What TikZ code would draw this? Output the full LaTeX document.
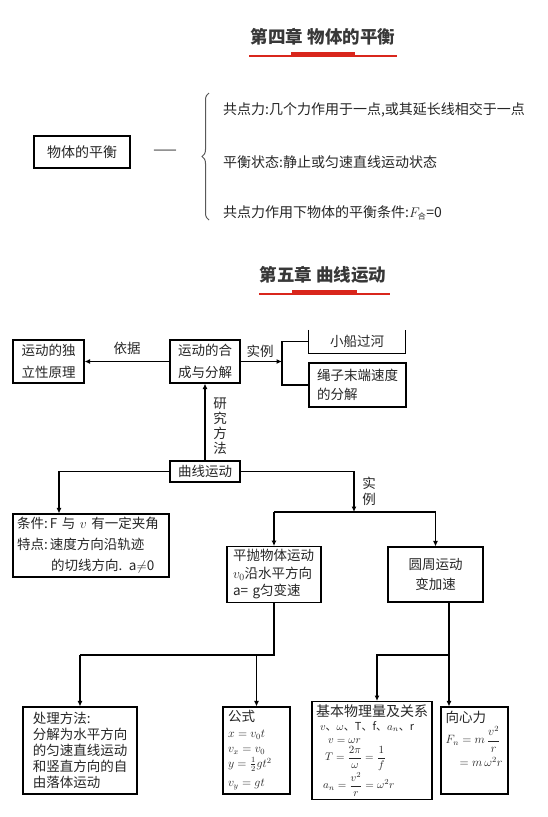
\RequirePackage{fix-cm}
\documentclass[tikz,border=0pt]{standalone}
\usepackage{amsmath}
\usepackage{fontspec}
\setmainfont{Noto Sans CJK SC}
\usepackage{tikz}
\usetikzlibrary{arrows.meta,positioning,decorations.pathreplacing}
\definecolor{ulred}{rgb}{0.85,0.15,0.11}

\begin{document}
\begin{tikzpicture}[x=1pt,y=-1pt, every node/.style={font=\fontsize{13.5}{22}\selectfont,text=black!85,inner sep=0pt}, box/.style={draw=black,line width=1.1pt,align=left,inner sep=3pt}, arr/.style={-{Latex[length=5.5pt,width=5pt]},line width=1.1pt}, ln/.style={line width=1.1pt}, ttl/.style={font=\fontsize{17.5}{20}\selectfont\bfseries,text=black!78}, lbl/.style={font=\fontsize{13.5}{16}\selectfont,align=center}, big/.style={font=\fontsize{14}{18}\selectfont}]
\fill[white] (0,0) rectangle (548,817);
\useasboundingbox (0,0) rectangle (548,817);
% chapter 4
\node[ttl] (t4) at (323,37) {第四章\ 物体的平衡};
\node[box,big,minimum width=96,minimum height=32,align=center] (bal) at (82,152) {物体的平衡};
\node[big] (dash) at (165,152) {——};
\draw[black!65,line width=1pt,decorate,decoration={brace,amplitude=7pt}] (209,220) -- (209,93);
\node[big,anchor=west] (p1) at (223,110) {共点力:几个力作用于一点,或其延长线相交于一点};
\node[big,anchor=west] (p2) at (223,162) {平衡状态:静止或匀速直线运动状态};
\node[big,anchor=west] (p3) at (223,213) {共点力作用下物体的平衡条件:$F_{\mbox{\fontsize{8}{8}\selectfont 合}}$=0};
% chapter 5
\node[ttl] (t5) at (323,275) {第五章\ 曲线运动};
\node[box,minimum width=71,minimum height=43] (indep) at (48.5,361.5) {运动的独\\立性原理};
\node[box,minimum width=70,minimum height=43] (comp) at (205,361.5) {运动的合\\成与分解};
\node[minimum width=96,minimum height=23] (boat) at (357,341.5) {小船过河};
\node[box,minimum width=97,minimum height=44,font=\fontsize{13.5}{19}\selectfont] (rope) at (357.5,385) {绳子末端速度\\的分解};
\node[box,minimum width=70,minimum height=21] (curve) at (205,471.5) {曲线运动};
\node[box,minimum width=156,minimum height=63,text width=148,font=\fontsize{13.5}{21}\selectfont] (cond) at (91,545.5) {\mbox{条件:\,F 与 $v$ 有一定夹角}\\特点:\,速度方向沿轨迹\\\hspace*{34pt}的切线方向. a$\neq$0};
\node[box,minimum width=94,minimum height=55,text width=82,font=\fontsize{13.5}{17.5}\selectfont] (proj) at (274,574.5) {平抛物体运动\\$v_0$沿水平方向\\a= g匀变速};
\node[box,minimum width=95,minimum height=55,align=center,font=\fontsize{13.5}{20}\selectfont] (circ) at (435.5,574.5) {圆周运动\\变加速};
\node[box,minimum width=114,minimum height=87,text width=94.5,font=\fontsize{13.5}{16}\selectfont] (handle) at (80,750.5) {处理方法:\\分解为水平方向\\的匀速直线运动\\和竖直方向的自\\由落体运动};
\node[box,minimum width=67,minimum height=87,text width=57,font=\fontsize{12}{15.5}\selectfont] (formula) at (256.5,750.5) {{\fontsize{13.5}{15}\selectfont 公式}\\$x=v_0t$\\$v_x=v_0$\\[-1pt]$y=\frac{1}{2}gt^2$\\[4pt]$v_y=gt$};
\node[box,minimum width=120,minimum height=87,text width=112,font=\fontsize{11}{14}\selectfont] (basic) at (372,750.5) {{\fontsize{14}{15}\selectfont 基本物理量及关系}\\\hspace*{4pt}$v$、$\omega$、T、f、$a_n$、r\\[-1pt]\hspace*{12pt}$v=\omega r$\\[2pt]\hspace*{9pt}$T=\dfrac{2\pi}{\omega}=\dfrac{1}{f}$\\[1pt]\hspace*{7pt}$a_n=\dfrac{v^2}{r}=\omega^2r$};
\node[box,minimum width=67,minimum height=87] (cent) at (474.5,750.5) {};
\node[anchor=north west,align=left,font=\fontsize{12}{15}\selectfont] (centtxt) at ([shift={(5,4)}]cent.north west) {{\fontsize{13.5}{15}\selectfont 向心力}\\[2pt]$F_n=m\,\dfrac{v^2}{r}$\\[4pt]\hspace*{14pt}$=m\,\omega^2r$};
\draw[ln] (boat.north west) -- (boat.south west) -- (boat.south east) -- (boat.north east);
\coordinate (fork) at (282,361.5); \coordinate (split) at (354,512); \coordinate (lj) at (0,655);
\draw[arr] (comp) -- (indep); \node[lbl] (basis) at (127,348) {依据};
\draw[arr] (comp) -- (fork); \node[lbl] (ex1) at (260,351) {实例};
\draw[ln] (boat.west) -| (fork) |- (rope.west);
\draw[arr] (curve) -- (comp); \node[lbl,font=\fontsize{13.5}{15}\selectfont] (meth) at (220,426) {研\\究\\方\\法};
\draw[arr] (curve.west) -| ([xshift=-32pt]cond.north);
\draw[arr] (curve.east) -| (split); \node[lbl] (ex2) at (369,491) {实\\例};
\draw[ln] (proj.north |- split) -- (circ.north |- split);
\draw[arr] (proj.north |- split) -- (proj); \draw[arr] (circ.north |- split) -- (circ);
\draw[ln] (proj.south) |- (handle.north |- lj);
\draw[arr] (handle.north |- lj) -- (handle); \draw[arr] (formula.north |- lj) -- (formula);
\draw[arr] ([xshift=13.5pt]circ.south) -- ([xshift=13.5pt]circ.south |- cent.north);
\draw[arr] ([xshift=13.5pt]circ.south |- lj) -| ([xshift=5pt]basic.north);
% title underlines
\fill[ulred] (249,55.3) rectangle (397,56.9); \fill[ulred] (291,52) rectangle (355,56.9);
\fill[ulred] (259,293.3) rectangle (390,294.9); \fill[ulred] (292,290) rectangle (357,294.9);
\end{tikzpicture}
\end{document}
